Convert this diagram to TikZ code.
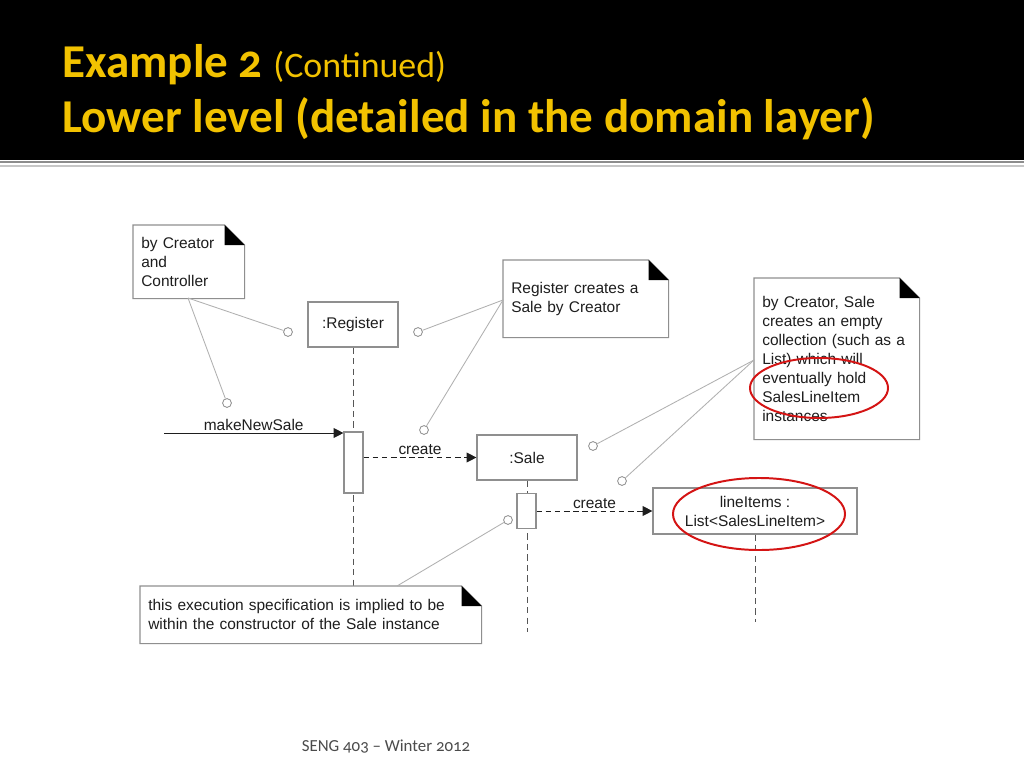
\documentclass[tikz,border=0pt]{standalone}
\usepackage{fontspec}
\setmainfont{Liberation Sans}
\newfontfamily\slidefont[Numbers=OldStyle]{Carlito}
\usetikzlibrary{arrows.meta,positioning,calc}
\definecolor{SlideGold}{HTML}{F2C200}
\definecolor{RuleGray}{HTML}{8C8C8C}
\definecolor{LineGray}{HTML}{8F8F8F}
\definecolor{LinkGray}{HTML}{B0B0B0}
\definecolor{InkGray}{HTML}{1E1E1E}
\definecolor{MarkRed}{HTML}{D41414}

% note outline with folded corner
\newcommand\notefold[1]{%
  \draw[LineGray, line width=0.8pt] (#1.north west) -- ([xshift=-0.5cm]#1.north east)
    -- ([yshift=-0.5cm]#1.north east) -- (#1.south east) -- (#1.south west) -- cycle;
  \fill[black] ([xshift=-0.5cm]#1.north east) -- ([xshift=-0.5cm,yshift=-0.5cm]#1.north east)
    -- ([yshift=-0.5cm]#1.north east) -- cycle;}

\begin{document}
\begin{tikzpicture}[
    x=0.025cm, y=-0.025cm,
    font=\fontsize{11}{13.5}\selectfont, text=InkGray,
    umlnote/.style={anchor=north west, align=left, inner xsep=0.2cm, inner ysep=0pt},
    objbox/.style={draw=LineGray, line width=0.8pt, fill=white, inner sep=0pt, align=center},
    actbar/.style={draw=LineGray, line width=0.8pt, fill=white, minimum width=0.475cm, inner sep=0pt},
    lifeline/.style={draw=InkGray!75, line width=0.7pt, dash pattern=on 4.5pt off 3pt},
    syncmsg/.style={draw=InkGray, line width=0.6pt, -{Triangle[length=7pt,width=7pt]}},
    createmsg/.style={syncmsg, dash pattern=on 4pt off 2.5pt},
    msglabel/.style={above, inner sep=1.5pt},
    notelink/.style={draw=LinkGray, line width=0.6pt},
    pinring/.style={circle, draw=LineGray, fill=white, line width=0.6pt, minimum size=0.22cm, inner sep=0pt},
    redring/.style={draw=MarkRed, line width=1.4pt}
]

  \useasboundingbox (0,0) rectangle (1024,768);
  \fill[white] (0,0) rectangle (1024,768);

  % Slide header
  \fill[black] (0,0) rectangle (1024,160);
  \fill[RuleGray] (0,161) rectangle (1024,163.5);
  \fill[RuleGray!50] (0,165.5) rectangle (1024,167);
  \node[anchor=base west, inner sep=0pt, text=SlideGold, font=\slidefont\bfseries\fontsize{33.5}{40}\selectfont] (title1) at (62,78)
    {Example 2 {\mdseries\fontsize{25.5}{30}\selectfont (Continued)}};
  \node[anchor=base west, inner sep=0pt, text=SlideGold, font=\slidefont\bfseries\fontsize{33.5}{40}\selectfont] (title2) at (62,133)
    {Lower level (detailed in the domain layer)};

  % Lifeline heads
  \node[objbox, minimum width=2.25cm, minimum height=1.125cm] (reg) at (353,324.5) {:Register};
  \node[objbox, minimum width=2.5cm, minimum height=1.125cm] (sale) at (527,457.5) {:Sale};
  \node[objbox, minimum width=5.1cm, minimum height=1.15cm] (items) at (755,511) {lineItems :\\List<SalesLineItem>};

  % Lifelines
  \coordinate (regend) at (353,586);
  \coordinate (saleend) at (527,632);
  \coordinate (itemsend) at (755,622);
  \draw[lifeline] (reg.south) -- (regend);
  \draw[lifeline] (sale.south) -- (saleend);
  \draw[lifeline] (items.south) -- (itemsend);

  % Execution specifications
  \node[actbar, minimum height=1.525cm] (regbar) at (353.5,462.5) {};
  \node[actbar, minimum height=0.875cm] (salebar) at (526.5,511) {};

  % Messages
  \coordinate (found) at (164,433);
  \draw[syncmsg] (found) -- (found -| regbar.west) node[msglabel, pos=0.5] {makeNewSale};
  \draw[createmsg] (regbar.east |- sale.west) -- (sale.west) node[msglabel, pos=0.5] {create};
  \draw[createmsg] (salebar.east) -- (items.west) node[msglabel, pos=0.5] {create};

  % Notes
  \node[umlnote, text width=2.375cm, minimum height=1.825cm] (n1) at (133,225)
    {by Creator\\and\\Controller};
  \notefold{n1}
  \node[umlnote, text width=3.725cm, minimum height=1.925cm] (n2) at (503,260)
    {Register creates a\\Sale by Creator};
  \notefold{n2}
  \node[umlnote, text width=3.725cm, minimum height=4.025cm] (n3) at (754,278)
    {by Creator, Sale\\creates an empty\\collection (such as a\\List) which will\\eventually hold\\SalesLineItem\\instances};
  \notefold{n3}
  \node[umlnote, text width=8.125cm, minimum height=1.425cm] (n4) at (140,586)
    {this execution specification is implied to be\\within the constructor of the Sale instance};
  \notefold{n4}

  % Note attachments
  \node[pinring] (p1a) at (288,332) {};
  \node[pinring] (p1b) at (227,403) {};
  \node[pinring] (p2a) at (418,332) {};
  \node[pinring] (p2b) at (424,430) {};
  \node[pinring] (p3a) at (593,446) {};
  \node[pinring] (p3b) at (622,481) {};
  \node[pinring] (p4) at (508,520) {};
  \coordinate (n1tail) at (188,298);
  \coordinate (n2tail) at (503,300);
  \coordinate (n3tail) at (754,360);
  \coordinate (n4tail) at (397,586);
  \draw[notelink] (n1tail) -- (p1a);
  \draw[notelink] (n1tail) -- (p1b);
  \draw[notelink] (n2tail) -- (p2a);
  \draw[notelink] (n2tail) -- (p2b);
  \draw[notelink] (n3tail) -- (p3a);
  \draw[notelink] (n3tail) -- (p3b);
  \draw[notelink] (n4tail) -- (p4);

  % Red highlight rings
  \draw[redring] (819,388) ellipse [x radius=1.725cm, y radius=0.75cm];
  \draw[redring] (759,514) ellipse [x radius=2.15cm, y radius=0.9cm];

  % Footer
  \node[text=InkGray!80, font=\slidefont\fontsize{12}{14}\selectfont] (footer) at (386,747) {SENG 403 – Winter 2012};

\end{tikzpicture}
\end{document}
